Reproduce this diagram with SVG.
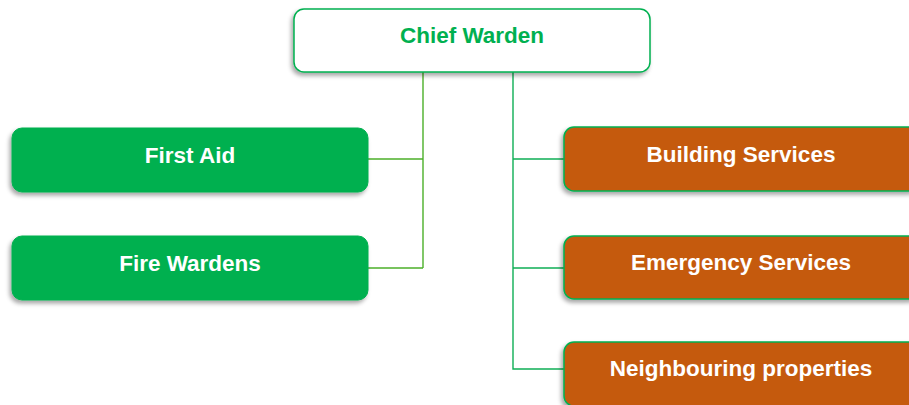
<svg xmlns="http://www.w3.org/2000/svg" width="909" height="405" viewBox="0 0 909 405">
<defs>
<filter id="sh" x="-10%" y="-20%" width="120%" height="150%">
<feDropShadow dx="-2" dy="3" stdDeviation="2" flood-color="#000" flood-opacity="0.35"/>
</filter>
<style>
.t{font-family:"Liberation Sans",Arial,sans-serif;font-weight:bold;font-size:22.5px;text-anchor:middle;fill:#fff}
.g{fill:#00b050;stroke:#00b050;stroke-width:1}
.o{fill:#c55a11;stroke:#00b050;stroke-width:1.5}
.c{fill:none;stroke-width:1.4}
</style>
</defs>
<g id="connectors">
<path class="c" stroke="#4cb02a" d="M423 72V268M368 159H423M368 268H423"/>
<path class="c" stroke="#0fae55" d="M513 72V369H564M513 159H564M513 268H564"/>
</g>
<g id="chief">
<rect x="294" y="9" width="356" height="63" rx="10" fill="#fff" stroke="#00b050" stroke-width="1.5" filter="url(#sh)"/>
<text class="t" x="472" y="43" style="fill:#00b050">Chief Warden</text>
</g>
<g id="firstaid">
<rect class="g" x="12" y="128" width="356" height="64" rx="10" filter="url(#sh)"/>
<text class="t" x="190" y="163">First Aid</text>
</g>
<g id="firewardens">
<rect class="g" x="12" y="236" width="356" height="64" rx="10" filter="url(#sh)"/>
<text class="t" x="190" y="271">Fire Wardens</text>
</g>
<g id="building">
<rect class="o" x="564" y="127" width="356" height="64" rx="10" filter="url(#sh)"/>
<text class="t" x="741" y="162">Building Services</text>
</g>
<g id="emergency">
<rect class="o" x="564" y="236" width="356" height="63" rx="10" filter="url(#sh)"/>
<text class="t" x="741" y="270">Emergency Services</text>
</g>
<g id="neighbouring">
<rect class="o" x="564" y="342" width="356" height="64" rx="10" filter="url(#sh)"/>
<text class="t" x="741" y="376">Neighbouring properties</text>
</g>
</svg>
